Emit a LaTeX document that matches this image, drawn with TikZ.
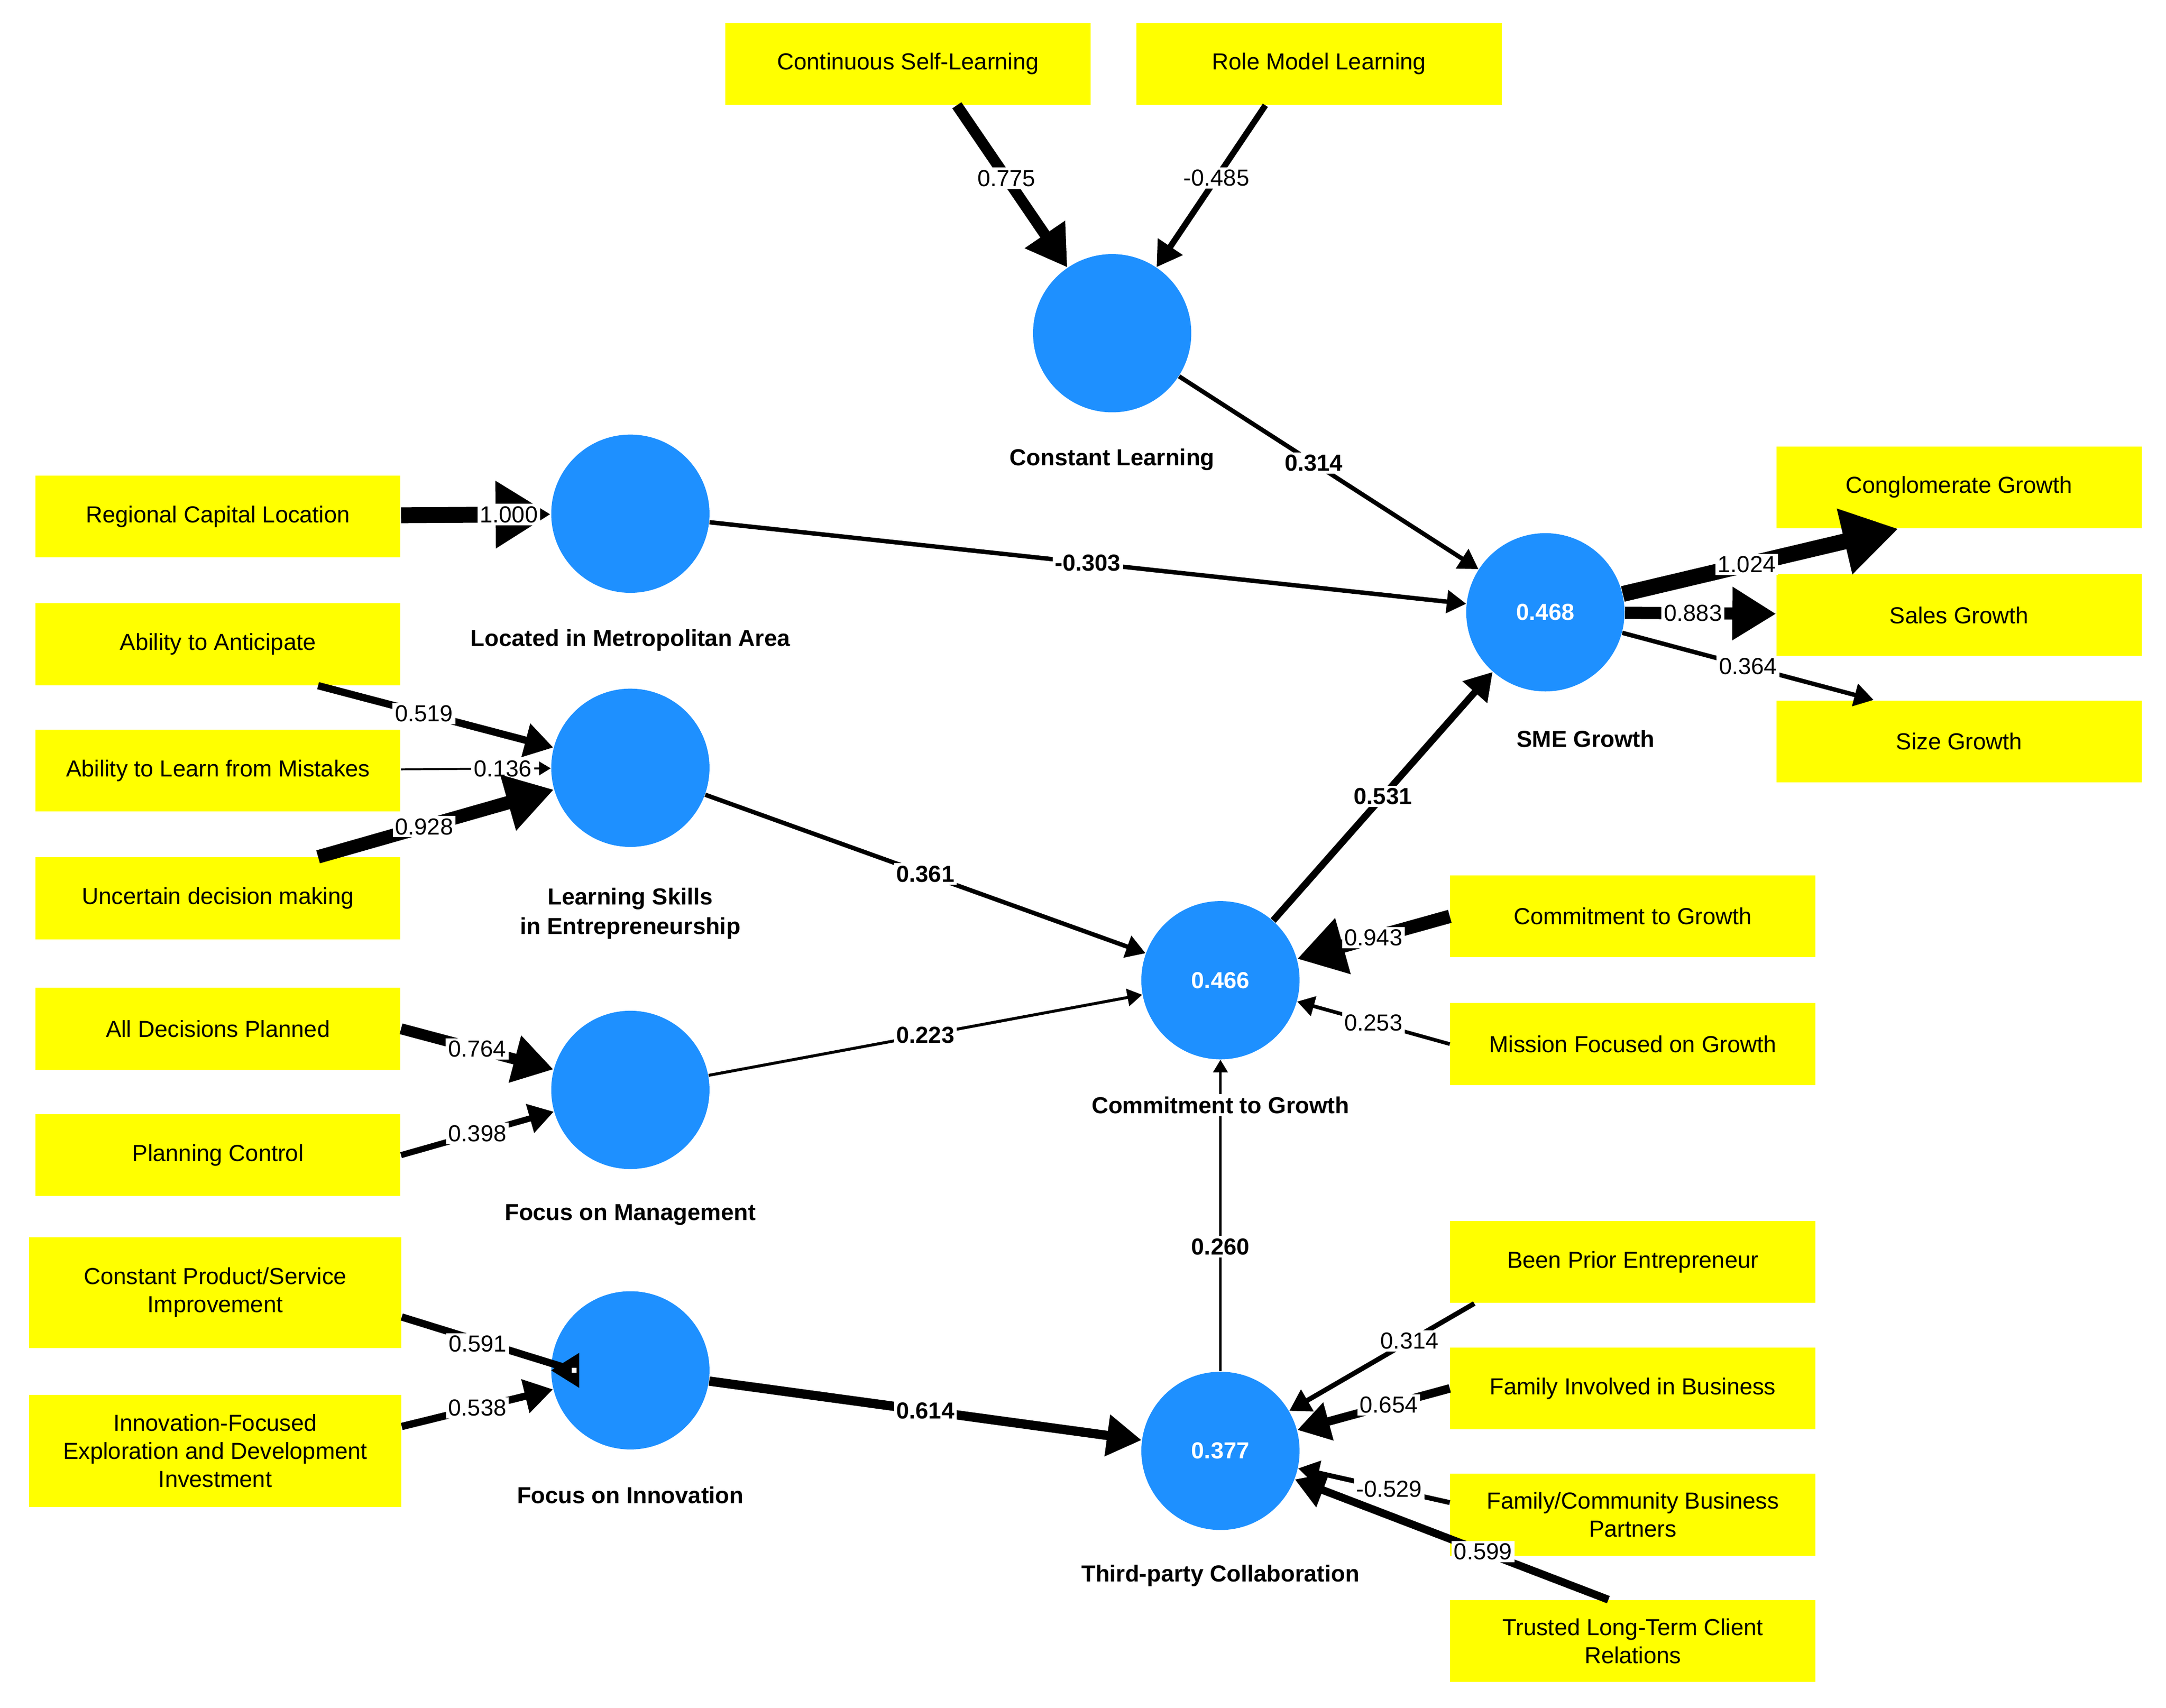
\documentclass[tikz,border=0pt]{standalone}
\usepackage{fontspec}
\setmainfont{Liberation Sans}
\usetikzlibrary{arrows.meta}
\definecolor{lvblue}{RGB}{30,144,255}
\definecolor{indyellow}{RGB}{255,255,0}
\tikzset{
  lv/.style={circle, fill=lvblue, draw=none, minimum size=2.28cm, inner sep=0pt, text=white, font=\bfseries\fontsize{9.5}{11}\selectfont},
  ind/.style={rectangle, fill=indyellow, draw=none, minimum width=5.26cm, minimum height=1.18cm, align=center, font=\fontsize{9.5}{11.5}\selectfont},
  lvname/.style={font=\bfseries\fontsize{9.5}{12}\selectfont, align=center, fill=white, inner sep=1pt},
  wt/.style={fill=white, inner sep=1pt, font=\fontsize{9.5}{11}\selectfont},
  pwt/.style={fill=white, inner sep=1pt, font=\bfseries\fontsize{9.5}{11}\selectfont},
  pth/.style={line width=#1, -{Triangle}},
}
\begin{document}
\begin{tikzpicture}[x=0.02cm, y=-0.02cm]
  \useasboundingbox (0,0) rectangle (1560,1230);
  % latent variables
  \node[lv] (cl) at (801,240) {};
  \node[lv] (lma) at (454,370) {};
  \node[lv] (lse) at (454,553) {};
  \node[lv] (fm) at (454,785) {};
  \node[lv] (fi) at (454,987) {};
  \node[lv] (cg) at (879,706) {0.466};
  \node[lv] (tpc) at (879,1045) {0.377};
  \node[lv] (sme) at (1113,441) {0.468};

  % indicators
  \node[ind] (csl) at (654,46) {Continuous Self-Learning};
  \node[ind] (rml) at (950,46) {Role Model Learning};
  \node[ind] (rcl) at (157,372) {Regional Capital Location};
  \node[ind] (aa) at (157,464) {Ability to Anticipate};
  \node[ind] (alm) at (157,555) {Ability to Learn from Mistakes};
  \node[ind] (udm) at (157,647) {Uncertain decision making};
  \node[ind] (adp) at (157,741) {All Decisions Planned};
  \node[ind] (pc) at (157,832) {Planning Control};
  \node[ind, minimum width=5.36cm, minimum height=1.6cm] (cpsi) at (155,931) {Constant Product/Service\\Improvement};
  \node[ind, minimum width=5.36cm, minimum height=1.62cm] (ifed) at (155,1045) {Innovation-Focused\\Exploration and Development\\Investment};
  \node[ind] (cgr) at (1411,351) {Conglomerate Growth};
  \node[ind] (sg) at (1411,443) {Sales Growth};
  \node[ind] (szg) at (1411,534) {Size Growth};
  \node[ind] (ctg) at (1176,660) {Commitment to Growth};
  \node[ind] (mfg) at (1176,752) {Mission Focused on Growth};
  \node[ind] (bpe) at (1176,909) {Been Prior Entrepreneur};
  \node[ind] (fib) at (1176,1000) {Family Involved in Business};
  \node[ind] (fcbp) at (1176,1091) {Family/Community Business\\Partners};
  \node[ind] (tlcr) at (1176,1182) {Trusted Long-Term Client\\Relations};

  % outer weights
  \draw[pth=4.5pt] ([xshift=20]csl.south) -- (cl) node[wt, pos=0.45] {0.775};
  \draw[pth=2.5pt] ([xshift=-22]rml.south) -- (cl) node[wt, pos=0.45] {-0.485};
  \draw[pth=6.5pt] (rcl) -- (lma) node[wt, pos=0.72] {1.000};
  \draw[pth=3pt] ([xshift=-34]aa.south east) -- (lse) node[wt, pos=0.45] {0.519};
  \draw[pth=0.8pt] (alm) -- (lse) node[wt, pos=0.68] {0.136};
  \draw[pth=5.5pt] ([xshift=-34]udm.north east) -- (lse) node[wt, pos=0.45] {0.928};
  \draw[pth=4.5pt] (adp.east) -- (fm) node[wt, pos=0.5] {0.764};
  \draw[pth=2.5pt] (pc.east) -- (fm) node[wt, pos=0.5] {0.398};
  \draw[pth=3pt] ([yshift=-10]cpsi.east) -- (fm.south west |- fi.west) -- (fi) node[wt, pos=0] {};
  \draw[pth=3pt] ([yshift=10]ifed.east) -- (fi) node[wt, pos=0.5] {0.538};
  \node[wt] at (344,968) {0.591};
  \draw[pth=6.5pt] (sme) -- ([xshift=-100]cgr.south east) node[wt, pos=0.45] {1.024};
  \draw[pth=5pt] (sme) -- (sg) node[wt, pos=0.45] {0.883};
  \draw[pth=1.8pt] (sme) -- ([xshift=40]szg.north west) node[wt, pos=0.5] {0.364};
  \draw[pth=5.5pt] (ctg.west) -- (cg) node[wt, pos=0.5] {0.943};
  \draw[pth=1.5pt] (mfg.west) -- (cg) node[wt, pos=0.5] {0.253};
  \draw[pth=2pt] ([xshift=-65]bpe.south) -- (tpc) node[wt, pos=0.35] {0.314};
  \draw[pth=3.5pt] (fib.west) -- (tpc) node[wt, pos=0.4] {0.654};
  \draw[pth=2pt] ([yshift=-12]fcbp.north west) -- (tpc) node[wt, pos=0.4] {-0.529};
  \draw[pth=3.2pt] ([xshift=65]tlcr.north west) -- (tpc) node[wt, pos=0.4] {0.599};

  % inner paths
  \draw[pth=1.8pt] (cl) -- (sme) node[pwt, pos=0.45] {0.314};
  \draw[pth=1.8pt] (lma) -- (sme) node[pwt, pos=0.5] {-0.303};
  \draw[pth=1.8pt] (lse) -- (cg) node[pwt, pos=0.5] {0.361};
  \draw[pth=1.2pt] (fm) -- (cg) node[pwt, pos=0.5] {0.223};
  \draw[pth=3.8pt] (fi) -- (tpc) node[pwt, pos=0.5] {0.614};
  \draw[pth=2.8pt] (cg) -- (sme) node[pwt, pos=0.5] {0.531};
  \draw[pth=0.9pt] (tpc) -- (cg) node[pwt, pos=0.4] {0.260};

  % latent names
  \node[lvname] at (801,331) {Constant Learning};
  \node[lvname] at (454,461) {Located in Metropolitan Area};
  \node[lvname] at (454,658) {Learning Skills\\in Entrepreneurship};
  \node[lvname] at (454,875) {Focus on Management};
  \node[lvname] at (454,1077) {Focus on Innovation};
  \node[lvname] at (879,796) {Commitment to Growth};
  \node[lvname] at (879,1135) {Third-party Collaboration};
  \node[lvname] at (1142,532) {SME Growth};
\end{tikzpicture}
\end{document}
